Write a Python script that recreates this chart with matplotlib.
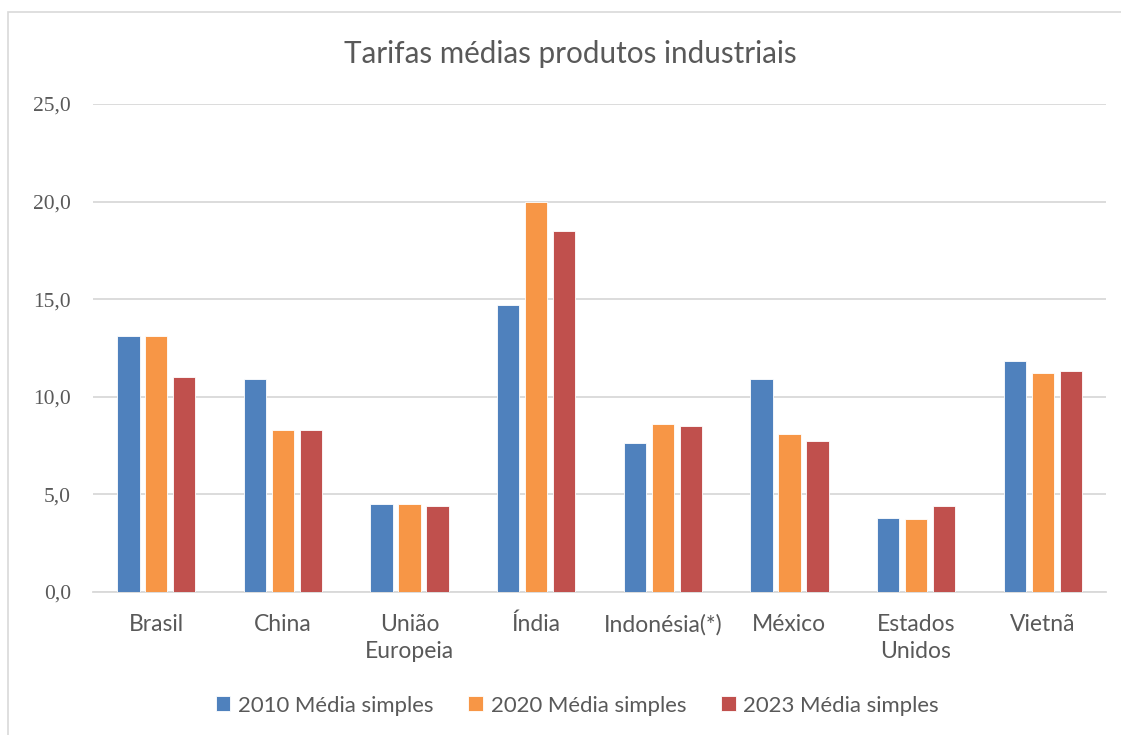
import numpy as np
import matplotlib.pyplot as plt
from matplotlib.patches import Rectangle

# Tarifas médias de produtos industriais por país

paises = ['Brasil', 'China', 'União\nEuropeia', 'Índia', 'Indonésia(*)',
          'México', 'Estados\nUnidos', 'Vietnã']
media_2010 = [13.1, 10.9, 4.5, 14.7, 7.6, 10.9, 3.8, 11.8]
media_2020 = [13.1, 8.3, 4.5, 20.0, 8.6, 8.1, 3.7, 11.2]
media_2023 = [11.0, 8.3, 4.4, 18.5, 8.5, 7.7, 4.4, 11.3]
series = ['2010 Média simples', '2020 Média simples', '2023 Média simples']
cores = ['#4F81BD', '#F79646', '#C0504D']
y_ticks = [0, 5, 10, 15, 20, 25]

fig = plt.figure(figsize=(11.21, 7.35), dpi=100)
ax = fig.add_axes([0.083, 0.195, 0.9036, 0.6635])

x = np.arange(len(paises))
passo = 0.221
largura = 0.176
for i, (vals, nome, cor) in enumerate(zip([media_2010, media_2020, media_2023], series, cores)):
    ax.bar(x + (i - 1) * passo, vals, width=largura, color=cor, label=nome,
           edgecolor='white', linewidth=0.6, zorder=3)

ax.set_xlim(-0.5, len(paises) - 0.5)
ax.set_ylim(0, 25)
ax.set_yticks(y_ticks)
ax.set_yticklabels([f'{v:.1f}'.replace('.', ',') for v in y_ticks],
                   family='Liberation Serif', fontsize=15.5, color='#595959')
ax.set_xticks(x)
ax.set_xticklabels(paises, family='Lato', fontsize=16.5, color='#595959',
                   linespacing=1.35)
ax.tick_params(axis='both', length=0)
ax.tick_params(axis='y', pad=16)
ax.tick_params(axis='x', pad=16)
ax.grid(axis='y', color='#D9D9D9', linewidth=1.3, zorder=0)
for s in ['top', 'right', 'left']:
    ax.spines[s].set_visible(False)
ax.spines['bottom'].set_color('#D9D9D9')
ax.spines['bottom'].set_linewidth(1.3)

fig.text(0.509, 0.927, 'Tarifas médias produtos industriais', ha='center',
         va='center', family='Lato', fontsize=21.3, color='#595959')

fig.legend(loc='center', bbox_to_anchor=(0.515, 0.04), ncol=3, frameon=False,
           prop={'family': 'Lato', 'size': 15.9}, labelcolor='#595959',
           handlelength=0.65, handleheight=0.65, handletextpad=0.35,
           columnspacing=1.6)

# moldura do gráfico
fig.patches.append(Rectangle((8 / 1121, -0.1), 1.2, 1 - 12 / 735 + 0.1,
                             transform=fig.transFigure, fill=False,
                             edgecolor='#D9D9D9', linewidth=1.2))

plt.savefig('out.png', dpi=100)
plt.close()
